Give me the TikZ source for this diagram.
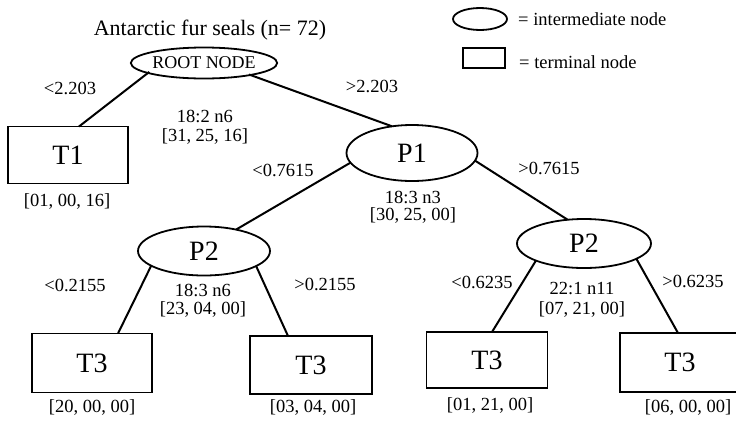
\documentclass[tikz,border=0pt]{standalone}
\usepackage{fontspec}
\setmainfont{Liberation Serif}
\usetikzlibrary{shapes.geometric,calc}
\begin{document}
\begin{tikzpicture}[x=1pt,y=-1pt,
  inode/.style={ellipse,draw,line width=1.8pt,inner sep=0pt},
  tnode/.style={rectangle,draw,line width=1.8pt,inner sep=0pt},
  big/.style={font=\fontsize{28}{28}\selectfont},
  lbl/.style={inner sep=0pt,font=\fontsize{18.5}{18.5}\selectfont},
  stat/.style={inner sep=0pt,align=center},
  sub/.style={inner sep=0pt,font=\fontsize{18.5}{18.5}\selectfont},
  edge/.style={line width=2pt}]
\useasboundingbox (0,0) rectangle (736,421);

% title
\node[inner sep=0pt,font=\fontsize{22}{22}\selectfont] (title) at (210,30) {Antarctic fur seals (n= 72)};

% legend
\node[inode,minimum width=54pt,minimum height=22pt] (legE) at (480,19) {};
\node[lbl,anchor=west] (legEt) at (518,19) {= intermediate node};
\node[tnode,minimum width=42pt,minimum height=20pt] (legR) at (484,58) {};
\node[lbl,anchor=west] (legRt) at (519,62) {= terminal node};

% intermediate nodes
\node[inode,minimum width=132pt,minimum height=31pt,font=\fontsize{18}{18}\selectfont] (root) at (204,63) {ROOT NODE};
\node[inode,big,minimum width=131pt,minimum height=56pt] (p1) at (412,153) {P1};
\node[inode,big,minimum width=132pt,minimum height=49pt] (p2l) at (204,251) {P2};
\node[inode,big,minimum width=134pt,minimum height=49pt] (p2r) at (584,243.5) {P2};

% terminal nodes
\node[tnode,big,minimum width=120pt,minimum height=57pt] (t1) at (68,155) {T1};
\node[tnode,big,minimum width=120pt,minimum height=59pt] (t3a) at (92,363) {T3};
\node[tnode,big,minimum width=122pt,minimum height=58pt] (t3b) at (311,365) {T3};
\node[tnode,big,minimum width=121pt,minimum height=56pt] (t3c) at (487,360) {T3};
\node[tnode,big,minimum width=120pt,minimum height=59pt] (t3d) at (680,362.5) {T3};

% connectors
\draw[edge] ($(root)+(-54.7,8.9)$) -- ($(t1)+(11,-28.5)$);
\draw[edge] ($(root)+(45,11.5)$) -- ($(p1)+(-20,-26.7)$);
\draw[edge] ($(p1)+(-61.4,9.6)$) -- ($(p2l)+(32.2,-21.5)$);
\draw[edge] ($(p1)+(63,7.6)$) -- ($(p2r)+(-16.4,-23.8)$);
\draw[edge] ($(p2l)+(-52.8,14.7)$) -- ($(t3a)+(26,-29.5)$);
\draw[edge] ($(p2l)+(52.1,15)$) -- ($(t3b)+(-23,-29)$);
\draw[edge] ($(p2r)+(-48,17)$) -- ($(t3c)+(5,-28)$);
\draw[edge] ($(p2r)+(52.4,15.3)$) -- ($(t3d)+(-2,-29.5)$);

% split labels
\node[lbl] (c1) at (70,88) {<2.203};
\node[lbl] (c2) at (372,86) {>2.203};
\node[lbl] (c3) at (283,170) {<0.7615};
\node[lbl] (c4) at (549,168) {>0.7615};
\node[lbl] (c5) at (75,285) {<0.2155};
\node[lbl] (c6) at (325,284) {>0.2155};
\node[lbl] (c7) at (482,282) {<0.6235};
\node[lbl] (c8) at (693,281) {>0.6235};

% node statistics
\node[stat,font=\fontsize{18.5}{19}\selectfont] (s1) at (205,127.5) {18:2 n6\\{}[31, 25, 16]};
\node[stat,font=\fontsize{18.5}{17}\selectfont] (s2) at (413,207) {18:3 n3\\{}[30, 25, 00]};
\node[stat,font=\fontsize{18.5}{18}\selectfont] (s3) at (203,301) {18:3 n6\\{}[23, 04, 00]};
\node[stat,font=\fontsize{18.5}{20}\selectfont] (s4) at (582,300) {22:1 n11\\{}[07, 21, 00]};

% terminal counts
\node[sub] (n1) at (67,201) {[01, 00, 16]};
\node[sub] (n2) at (92,407) {[20, 00, 00]};
\node[sub] (n3) at (313,407) {[03, 04, 00]};
\node[sub] (n4) at (490,405) {[01, 21, 00]};
\node[sub] (n5) at (688,407) {[06, 00, 00]};
\end{tikzpicture}
\end{document}
